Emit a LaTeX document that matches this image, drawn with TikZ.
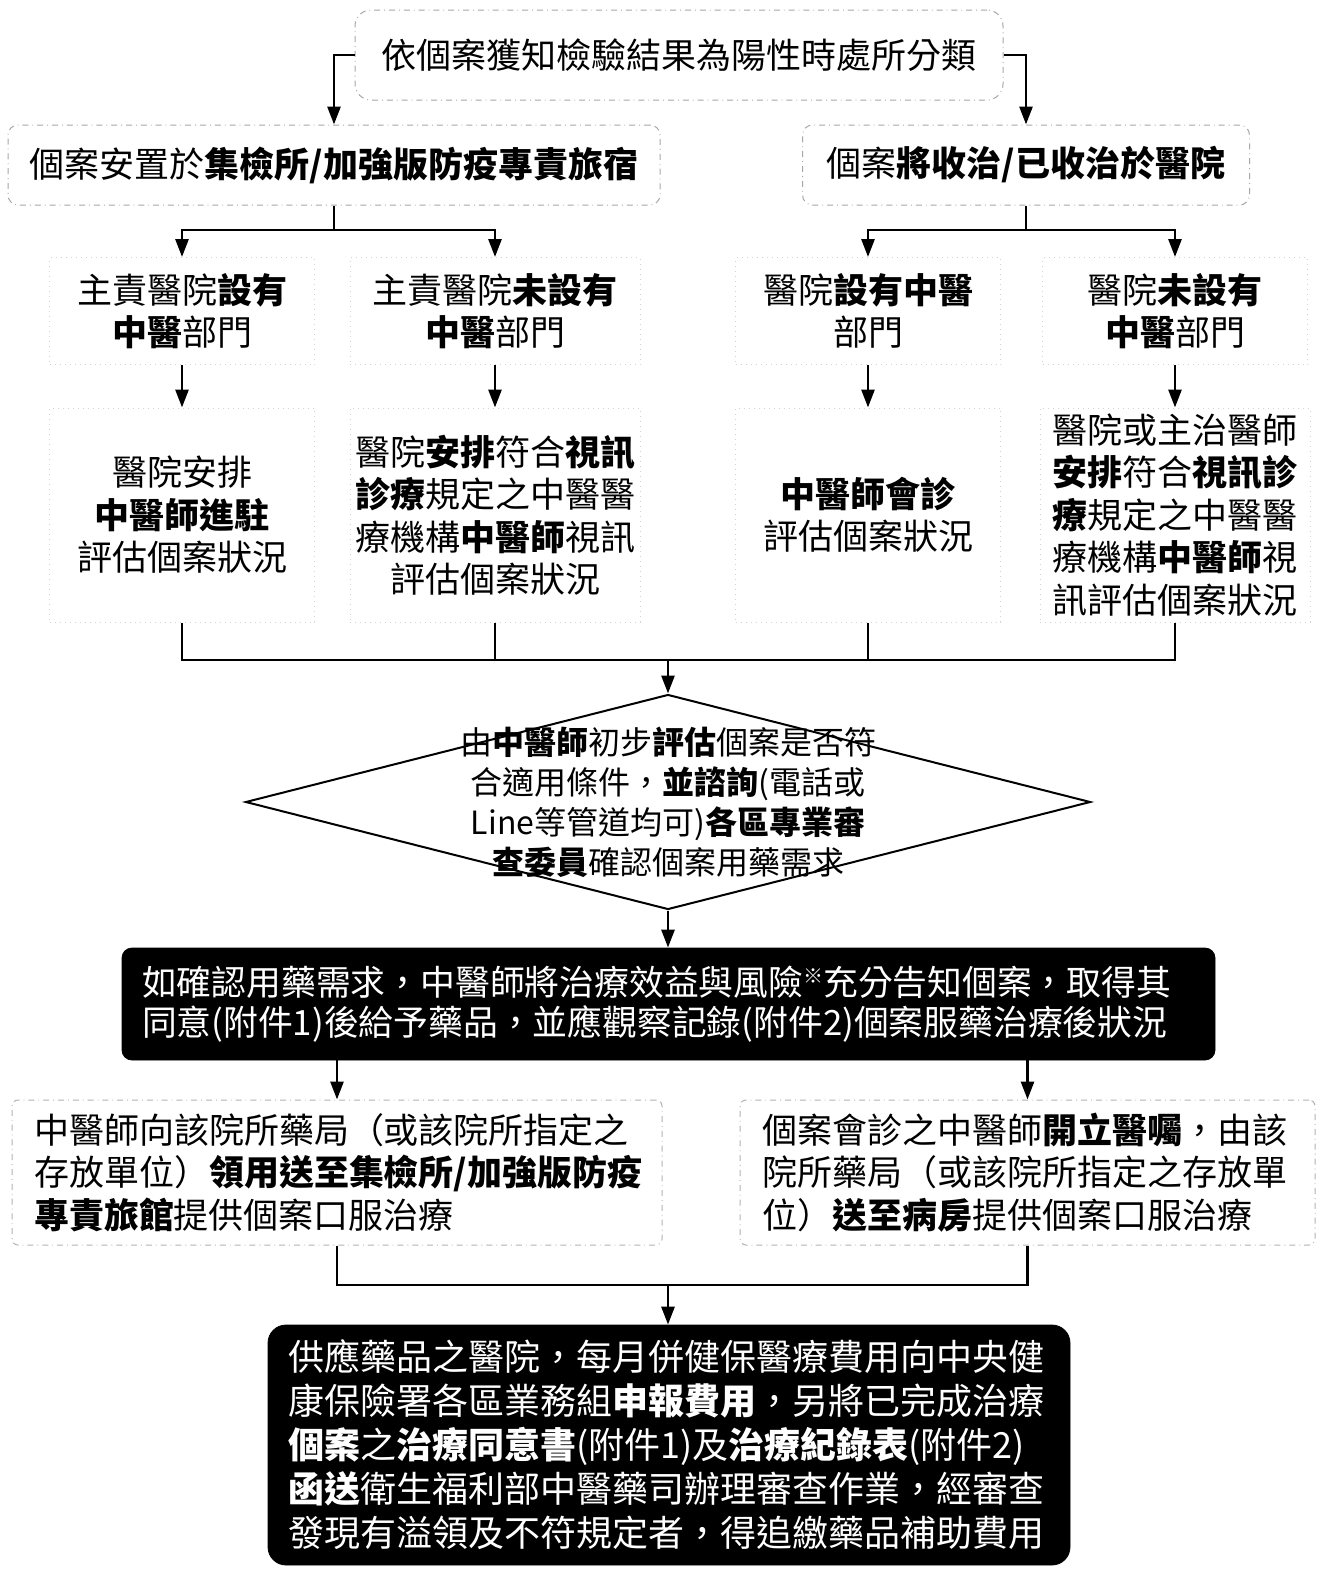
\documentclass[tikz,border=0pt]{standalone}
\usepackage{fontspec}
\setmainfont{Noto Sans CJK TC}
\usetikzlibrary{arrows.meta,shapes.geometric}
\tikzset{
  conn/.style={line width=1.4pt,black},
  arr/.style={conn,-{Triangle[length=9pt,width=6.5pt]}},
  topbox/.style={draw=gray!70,dash dot,line width=0.5pt,rounded corners=8pt,inner sep=0pt,align=center,font=\fontsize{17.5}{21}\selectfont},
  faintbox/.style={draw=gray!35,dotted,line width=0.5pt,inner sep=0pt,align=center,font=\fontsize{17.5}{21.25}\selectfont},
  leftbox/.style={draw=gray!60,dash dot,line width=0.5pt,rounded corners=3pt,inner ysep=0pt,inner xsep=11pt,align=left,font=\fontsize{17.5}{21.25}\selectfont},
  blackbox/.style={fill=black,draw=black,text=white,inner ysep=0pt,inner xsep=10pt,align=left},
}
\begin{document}
\begin{tikzpicture}[x=0.5pt,y=-0.5pt]
\useasboundingbox (0,0) rectangle (1343,1596);

% level 0 and 1
\node[topbox,minimum width=324pt,minimum height=45pt] (top) at (679,55) {依個案獲知檢驗結果為陽性時處所分類};
\node[topbox,rounded corners=5pt,minimum width=326pt,minimum height=40pt] (L1) at (334,165) {個案安置於\textbf{集檢所/加強版防疫專責旅宿}};
\node[topbox,rounded corners=5pt,minimum width=223.5pt,minimum height=40pt] (R1) at (1026,165) {個案\textbf{將收治/已收治於醫院}};

% level 2
\node[faintbox,minimum width=132.5pt,minimum height=53.5pt] (A2) at (182,311) {主責醫院\textbf{設有}\\\textbf{中醫}部門};
\node[faintbox,minimum width=145pt,minimum height=53.5pt] (B2) at (495,311) {主責醫院\textbf{未設有}\\\textbf{中醫}部門};
\node[faintbox,minimum width=132.5pt,minimum height=53.5pt] (C2) at (868,311) {醫院\textbf{設有中醫}\\部門};
\node[faintbox,minimum width=132.5pt,minimum height=53.5pt] (D2) at (1175,311) {醫院\textbf{未設有}\\\textbf{中醫}部門};

% level 3
\node[faintbox,minimum width=132.5pt,minimum height=107pt] (A3) at (182,515) {醫院安排\\\textbf{中醫師進駐}\\評估個案狀況};
\node[faintbox,minimum width=145pt,minimum height=107pt] (B3) at (495,515) {醫院\textbf{安排}符合\textbf{視訊}\\\textbf{診療}規定之中醫醫\\療機構\textbf{中醫師}視訊\\評估個案狀況};
\node[faintbox,minimum width=132.5pt,minimum height=107pt] (C3) at (868,515) {\textbf{中醫師會診}\\評估個案狀況};
\node[faintbox,minimum width=135pt,minimum height=107pt] (D3) at (1175,515) {醫院或主治醫師\\\textbf{安排}符合\textbf{視訊診}\\\textbf{療}規定之中醫醫\\療機構\textbf{中醫師}視\\訊評估個案狀況};

% diamond
\node[diamond,draw=black,line width=1pt,minimum width=422.5pt,minimum height=107.5pt,inner sep=0pt] (dia) at (668,802) {};
\node[align=center,inner sep=0pt,font=\fontsize{16}{20}\selectfont] (diatext) at (dia.center) {由\textbf{中醫師}初步\textbf{評估}個案是否符\\合適用條件，\textbf{並諮詢}(電話或\\Line等管道均可)\textbf{各區專業審}\\\textbf{查委員}確認個案用藥需求};

% black box
\node[blackbox,rounded corners=5pt,text width=526.5pt,minimum height=56pt,font=\fontsize{17.4}{20}\selectfont] (blk) at (668.5,1004) {如確認用藥需求，中醫師將治療效益與風險\raisebox{0.35em}{\fontsize{10}{10}\selectfont ※}充分告知個案，取得其\\同意(附件1)後給予藥品，並應觀察記錄(附件2)個案服藥治療後狀況};

% lower boxes
\node[leftbox,text width=303pt,minimum height=72.5pt] (LB) at (337,1172.5) {中醫師向該院所藥局（或該院所指定之\\存放單位）\textbf{領用送至集檢所/加強版防疫}\\\textbf{專責旅館}提供個案口服治療};
\node[leftbox,text width=265.5pt,minimum height=72.5pt] (RB) at (1027.5,1172.5) {個案會診之中醫師\textbf{開立醫囑}，由該\\院所藥局（或該院所指定之存放單\\位）\textbf{送至病房}提供個案口服治療};

% bottom box
\node[blackbox,rounded corners=9pt,text width=381pt,minimum height=120pt,font=\fontsize{18}{22}\selectfont] (bot) at (669,1445) {供應藥品之醫院，每月併健保醫療費用向中央健\\康保險署各區業務組\textbf{申報費用}，另將已完成治療\\\textbf{個案}之\textbf{治療同意書}(附件1)及\textbf{治療紀錄表}(附件2)\\\textbf{函送}衛生福利部中醫藥司辦理審查作業，經審查\\發現有溢領及不符規定者，得追繳藥品補助費用};

% connectors
\draw[arr] (top.west) -| (L1.north);
\draw[arr] (top.east) -| (R1.north);

\coordinate (s1) at (334,230);
\coordinate (s2) at (1026,230);
\draw[conn] (L1.south) -- (s1);
\draw[arr] (s1) -| (A2.north);
\draw[arr] (s1) -| (B2.north);
\draw[conn] (R1.south) -- (s2);
\draw[arr] (s2) -| (C2.north);
\draw[arr] (s2) -| (D2.north);

\draw[arr] (A2.south) -- (A3.north);
\draw[arr] (B2.south) -- (B3.north);
\draw[arr] (C2.south) -- (C3.north);
\draw[arr] (D2.south) -- (D3.north);

\coordinate (m1) at (668,660);
\draw[conn] (A3.south) |- (m1);
\draw[conn] (B3.south) |- (m1);
\draw[conn] (C3.south) |- (m1);
\draw[conn] (D3.south) |- (m1);
\draw[arr] (m1) -- (dia.north);

\draw[arr] (dia.south) -- (blk.north -| dia.south);
\draw[arr] (blk.south -| LB.north) -- (LB.north);
\draw[arr] (blk.south -| RB.north) -- (RB.north);

\coordinate (m2) at (668,1285);
\draw[conn] (LB.south) |- (m2);
\draw[conn] (RB.south) |- (m2);
\draw[arr] (m2) -- (bot.north -| m2);
\end{tikzpicture}
\end{document}
